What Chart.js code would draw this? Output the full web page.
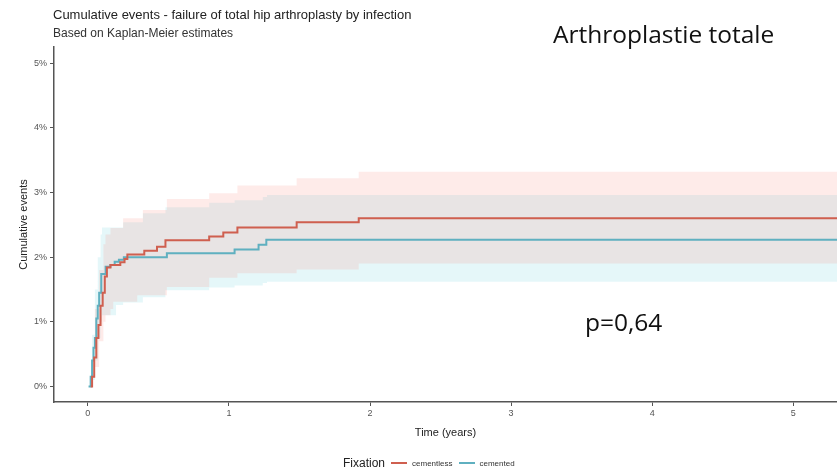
<!DOCTYPE html>
<html>
<head>
<meta charset="utf-8">
<script src="https://cdn.jsdelivr.net/npm/chart.js@4/dist/chart.umd.min.js"></script>
<style>
  body { margin: 0; background: #fff; }
  #wrap { position: relative; width: 837px; height: 472px; overflow: hidden; }
  .txt { position: absolute; white-space: nowrap; font-family: "Liberation Sans", Arial, sans-serif; }
  #title { left: 53px; top: 7px; font-size: 13px; color: #222; }
  #subtitle { left: 53px; top: 26px; font-size: 12px; color: #333; }
  #panelName { left: 553px; top: 17px; font-size: 24.5px; color: #111; font-family: "Open Sans", sans-serif; }
  #pval { left: 585px; top: 305px; font-size: 24.5px; color: #111; font-family: "Open Sans", sans-serif; }
  #legend { left: 343px; top: 456px; font-size: 12px; color: #222; display: flex; align-items: center; }
  #legend .key { display: inline-block; width: 16px; height: 2px; margin: 0 5px 0 6px; }
  #legend .lab { font-size: 8px; color: #333; }
</style>
</head>
<body>
<div id="wrap">
  <canvas id="kmChart" width="837" height="472"></canvas>
  <div class="txt" id="title">Cumulative events - failure of total hip arthroplasty by infection</div>
  <div class="txt" id="subtitle">Based on Kaplan-Meier estimates</div>
  <div class="txt" id="panelName">Arthroplastie totale</div>
  <div class="txt" id="pval">p=0,64</div>
  <div class="txt" id="legend">
    <span>Fixation</span>
    <span class="key" style="background:#cf5f4f"></span><span class="lab">cementless</span>
    <span class="key" style="background:#5fb0c0"></span><span class="lab">cemented</span>
  </div>
</div>
<script>
// time in years, cumulative events in %
const cementlessTime = [0.02, 0.03, 0.045, 0.06, 0.075, 0.09, 0.105, 0.12, 0.135, 0.16, 0.23, 0.26, 0.28, 0.40, 0.49, 0.55, 0.86, 0.96, 1.06, 1.48, 1.92, 5.31];
const cementlessEvents = [0, 0.15, 0.45, 0.75, 0.95, 1.25, 1.45, 1.70, 1.84, 1.88, 1.92, 1.97, 2.04, 2.10, 2.16, 2.26, 2.32, 2.38, 2.46, 2.54, 2.60, 2.60];

const cementedTime = [0.005, 0.02, 0.03, 0.04, 0.05, 0.06, 0.07, 0.08, 0.095, 0.126, 0.16, 0.19, 0.22, 0.255, 0.56, 1.04, 1.21, 1.265, 5.31];
const cementedEvents = [0, 0.15, 0.4, 0.6, 0.75, 1.05, 1.25, 1.45, 1.74, 1.85, 1.88, 1.93, 1.96, 2.00, 2.06, 2.12, 2.19, 2.27, 2.27];

// confidence bands
const cementlessBandTime = [0.02, 0.05, 0.08, 0.11, 0.125, 0.16, 0.18, 0.25, 0.35, 0.39, 0.56, 0.86, 1.06, 1.48, 1.92, 5.31];
const cementlessUpper = [0, 1.2, 1.8, 2.2, 2.35, 2.45, 2.45, 2.60, 2.60, 2.73, 2.90, 2.99, 3.11, 3.22, 3.32, 3.32];
const cementlessLower = [0, 0.3, 0.7, 1.0, 1.1, 1.2, 1.31, 1.31, 1.41, 1.41, 1.54, 1.68, 1.75, 1.81, 1.90, 1.90];

const cementedBandTime = [0.005, 0.03, 0.05, 0.07, 0.09, 0.1, 0.2, 0.25, 0.39, 0.55, 0.86, 1.04, 1.24, 1.27, 5.31];
const cementedUpper = [0, 0.8, 1.5, 2.0, 2.35, 2.46, 2.46, 2.54, 2.68, 2.77, 2.84, 2.88, 2.93, 2.96, 2.96];
const cementedLower = [0, 0.1, 0.4, 0.75, 1.0, 1.1, 1.26, 1.3, 1.38, 1.49, 1.53, 1.56, 1.60, 1.62, 1.62];

const xTicks = [0, 1, 2, 3, 4, 5];
const yTicks = [0, 1, 2, 3, 4, 5];

const font = "'Liberation Sans', Arial, sans-serif";

function pts(xs, ys) {
    return xs.map((x, i) => ({ x: x, y: ys[i] }));
}

function band(xs, ys, fill, color) {
    return {
        data: pts(xs, ys),
        stepped: true,
        borderWidth: 0,
        pointRadius: 0,
        fill: fill,
        backgroundColor: color,
        order: 2
    };
}

const data = {
    datasets: [
        band(cementlessBandTime, cementlessUpper, '+1', 'rgba(248,118,109,0.15)'),
        band(cementlessBandTime, cementlessLower, false, 'transparent'),
        band(cementedBandTime, cementedUpper, '+1', 'rgba(0,180,196,0.10)'),
        band(cementedBandTime, cementedLower, false, 'transparent'),
        {
            label: 'cementless',
            data: pts(cementlessTime, cementlessEvents),
            stepped: true,
            borderColor: '#cf5f4f',
            borderWidth: 2,
            pointRadius: 0,
            fill: false,
            order: 0
        },
        {
            label: 'cemented',
            data: pts(cementedTime, cementedEvents),
            stepped: true,
            borderColor: '#5fb0c0',
            borderWidth: 2,
            pointRadius: 0,
            fill: false,
            order: 1
        }
    ]
};

const config = {
    type: 'line',
    data: data,
    options: {
        responsive: false,
        animation: false,
        layout: { padding: { top: 47, right: 0, left: 0, bottom: 0 } },
        plugins: {
            legend: { display: false },
            tooltip: { enabled: false }
        },
        scales: {
            x: {
                type: 'linear',
                min: -0.24,
                max: 5.31,
                afterBuildTicks: s => { s.ticks = xTicks.map(v => ({ value: v })); },
                afterFit: s => { s.height = 70; },
                ticks: { color: '#555', font: { size: 9, family: font }, padding: 2, maxRotation: 0 },
                grid: { drawOnChartArea: false, tickLength: 4, color: '#555' },
                border: { color: '#555', width: 1.5 },
                title: { display: true, text: 'Time (years)', color: '#222', font: { size: 11, family: font }, padding: { top: 0, bottom: 32 } }
            },
            y: {
                type: 'linear',
                min: -0.24,
                max: 5.25,
                afterBuildTicks: s => { s.ticks = yTicks.map(v => ({ value: v })); },
                afterFit: s => { s.width = 54; },
                ticks: { color: '#555', font: { size: 9, family: font }, padding: 3, callback: v => v + '%' },
                grid: { drawOnChartArea: false, tickLength: 4, color: '#555' },
                border: { color: '#555', width: 1.5 },
                title: { display: true, text: 'Cumulative events', color: '#222', font: { size: 11, family: font }, padding: { top: 17, bottom: 0 } }
            }
        }
    }
};

new Chart('kmChart', config);
</script>
</body>
</html>
